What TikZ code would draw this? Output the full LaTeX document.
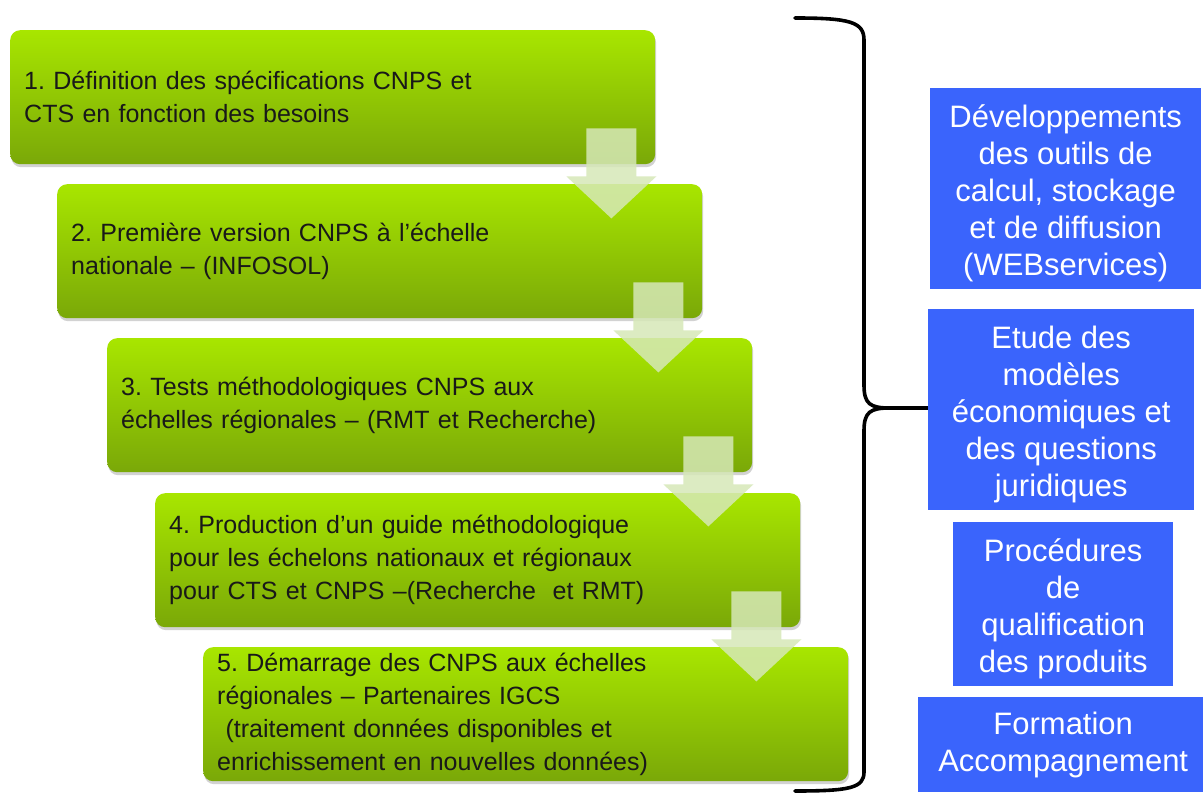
\documentclass[tikz,border=0pt]{standalone}
\usepackage{fontspec}
\setmainfont{Liberation Sans}
\frenchspacing
\usetikzlibrary{calc,shadows}
\definecolor{gtop}{RGB}{168,230,0}
\definecolor{gbot}{RGB}{122,168,8}
\definecolor{bluebox}{RGB}{58,100,252}
\definecolor{arrowfill}{RGB}{214,232,184}
\newcommand{\bluetext}[2]{\parbox{#1}{\centering\vspace*{10pt}#2}}
\tikzset{
  greenbox/.style={rectangle, rounded corners=10pt, top color=gtop, bottom color=gbot,
    draw=none, anchor=north west, inner xsep=14pt, inner ysep=0pt, align=left,
    text width=617pt, minimum width=645pt, minimum height=134pt,
    font=\fontsize{25}{33}\selectfont\frenchspacing, text=black!90,
    drop shadow={opacity=0.35, shadow xshift=1pt, shadow yshift=-3pt}},
  bluenode/.style={rectangle, fill=bluebox, draw=none, anchor=north west, align=center,
    text=white, inner sep=0pt, font=\fontsize{31}{37}\selectfont},
  downarrow/.style={fill=arrowfill, fill opacity=0.85, draw=none},
  bracepath/.style={draw=black, line width=3.6pt, line cap=round, line join=round}
}
\begin{document}
\begin{tikzpicture}[x=1pt,y=-1pt]
\useasboundingbox[fill=white] (0,0) rectangle (1203,794);

% green steps
\node[greenbox] (g1) at (10,30) {1. Définition des spécifications CNPS et\\CTS en fonction des besoins};
\node[greenbox] (g2) at (57,184) {2. Première version CNPS à l’échelle\\nationale – (INFOSOL)};
\node[greenbox] (g3) at (107,338) {3. Tests méthodologiques CNPS aux\\échelles régionales – (RMT et Recherche)};
\node[greenbox] (g4) at (155,493) {4. Production d’un guide méthodologique\\pour les échelons nationaux et régionaux\\pour CTS et CNPS –(Recherche~ et RMT)};
\node[greenbox] (g5) at (203,647) {5. Démarrage des CNPS aux échelles\\régionales – Partenaires IGCS\\~(traitement données disponibles et\\enrichissement en nouvelles données)};

% arrows between steps
\foreach \a/\b in {g1/g2,g2/g3,g3/g4,g4/g5}{
  \path ($(\a.south east)+(-44,0)$) coordinate (c);
  \fill[downarrow] ($(c)+(-25,-36)$) -- ($(c)+(25,-36)$) -- ($(c)+(25,12)$) -- ($(c)+(45,12)$)
     -- ($(c)+(0,54)$) -- ($(c)+(-45,12)$) -- ($(c)+(-25,12)$) -- cycle;
}

% brace
\coordinate (btop) at (795,18);
\coordinate (btip) at (933,408);
\coordinate (bbot) at (795,791);
\draw[bracepath] (btop) .. controls (850,18) and (864,22) .. (864,40)
  -- (864,385) .. controls (864,404) and (870,408) .. (890,408) -- (btip);
\draw[bracepath] (btip) -- (890,408) .. controls (870,408) and (864,412) .. (864,431)
  -- (864,772) .. controls (864,788) and (850,791) .. (bbot);

% blue boxes
\node[bluenode, minimum width=271pt, minimum height=201pt] (b1) at (930,88)
  {\bluetext{271pt}{Développements\\des outils de\\calcul, stockage\\et de diffusion\\(WEBservices)}};
\node[bluenode, minimum width=266pt, minimum height=201pt] (b2) at (928,309)
  {\bluetext{266pt}{Etude des\\modèles\\économiques et\\des questions\\juridiques}};
\node[bluenode, minimum width=220pt, minimum height=164pt] (b3) at (953,522)
  {\bluetext{220pt}{Procédures\\de\\qualification\\des produits}};
\node[bluenode, minimum width=290pt, minimum height=95pt] (b4) at (918,697)
  {Formation\\Accompagnement};
\end{tikzpicture}
\end{document}
